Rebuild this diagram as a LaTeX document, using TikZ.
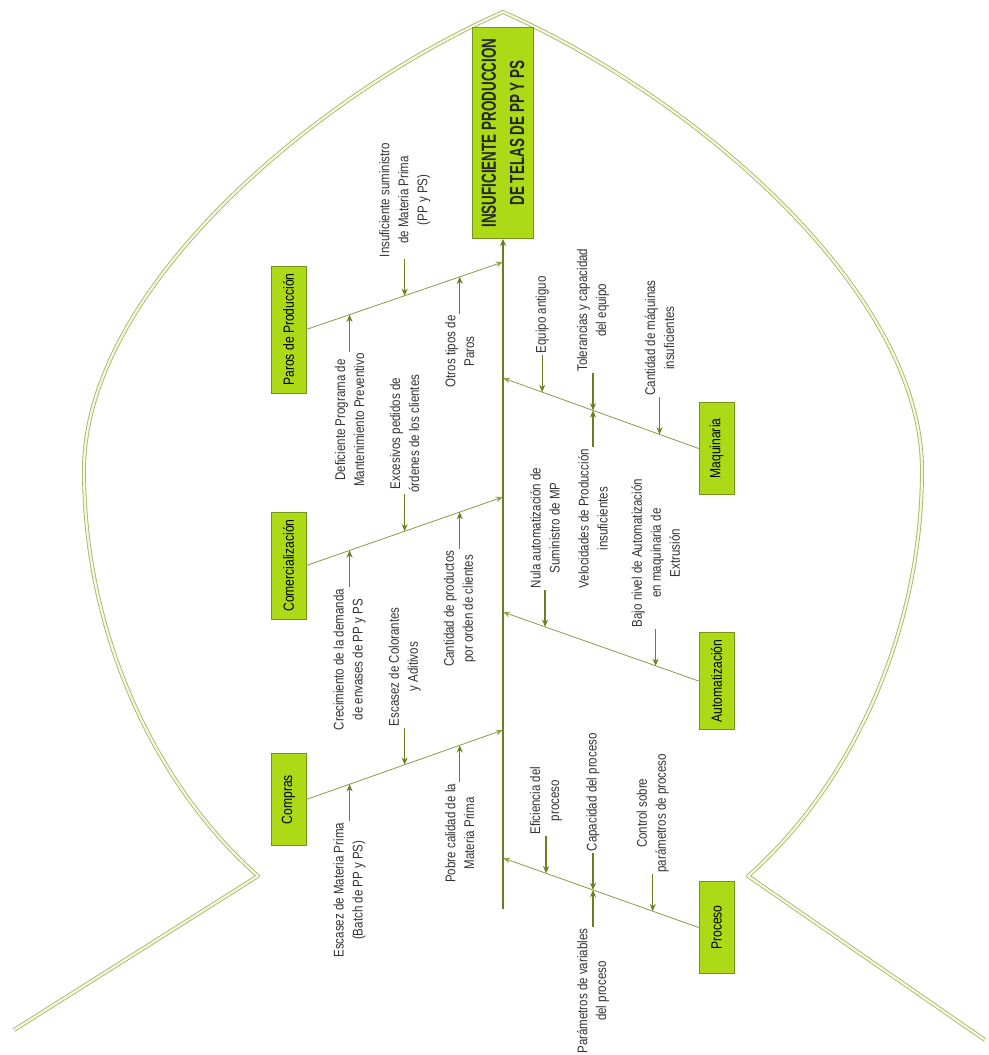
\documentclass[tikz,border=0pt]{standalone}
\usepackage{fontspec}
\setmainfont{Liberation Sans}[FakeStretch=0.82]
\newfontfamily\headfont{Liberation Sans}[FakeStretch=0.66]
\usetikzlibrary{positioning,calc,arrows.meta}

\definecolor{boxgreen}{RGB}{172,218,22}
\definecolor{boxline}{RGB}{118,148,28}
\definecolor{boneline}{RGB}{140,158,80}
\definecolor{spineline}{RGB}{104,128,30}
\definecolor{fishline}{RGB}{165,182,100}
\definecolor{fishfill}{RGB}{244,247,222}

\tikzset{
  catbox/.style={draw=boxline, fill=boxgreen, rotate=90, minimum width=2.3cm, minimum height=0.875cm, inner xsep=0.18cm, font=\fontsize{10.5}{12}\selectfont},
  headbox/.style={draw=boxline, fill=boxgreen, rotate=90, minimum width=5.275cm, minimum height=1.525cm, align=center, text=black!85, font=\headfont\bfseries\fontsize{14.5}{20}\selectfont},
  cause/.style={rotate=90, align=center, inner sep=1pt, text=black!80, font=\fontsize{10}{13.5}\selectfont},
  bone/.style={draw=boneline, line width=0.6pt, -{Stealth[length=1.8mm,width=1.4mm]}},
  subbone/.style={draw=spineline, line width=0.9pt, -{Stealth[length=1.8mm,width=1.5mm]}},
  fish/.style={draw=fishline, double=fishfill, double distance=1.6pt, line width=0.6pt, line join=round}
}

\begin{document}
\begin{tikzpicture}[x=0.025cm, y=-0.025cm]
\useasboundingbox (0,0) rectangle (989,1055);

\draw[fish] (14,1030) -- (258,876) .. controls (160,790) and (84,640) .. (84,470)
  .. controls (84,290) and (315,95) .. (503,12)
  .. controls (691,95) and (922,290) .. (922,470)
  .. controls (922,640) and (846,790) .. (748,876) -- (985,1040);

\node[headbox] (head) at (503,133) {INSUFICIENTE PRODUCCION\\DE TELAS DE PP Y PS};

\node[catbox] (paros) at (288.5,329.5) {Paros de Producción};
\node[catbox] (comer) at (288.5,565.5) {Comercialización};
\node[catbox] (compras) at (288.5,799.5) {Compras};
\node[catbox] (maq) at (716.5,448.5) {Maquinaria};
\node[catbox] (auto) at (716.5,681) {Automatización};
\node[catbox] (proc) at (716.5,927.5) {Proceso};

\coordinate (tail) at (503,909);
\coordinate (s1) at (503,262);
\coordinate (s2) at (503,497);
\coordinate (s3) at (503,730);
\coordinate (s4) at (503,378);
\coordinate (s5) at (503,612);
\coordinate (s6) at (503,858);

\draw[subbone] (tail) -- (head.west);
\draw[bone] (paros.south) -- (s1);
\draw[bone] (comer.south) -- (s2);
\draw[bone] (compras.south) -- (s3);
\draw[bone] (maq.north) -- (s4);
\draw[bone] (auto.north) -- (s5);
\draw[bone] (proc.north) -- (s6);

\coordinate (pa1) at ($(paros.south)!0.22!(s1)$);
\coordinate (pa2) at ($(paros.south)!0.5!(s1)$);
\coordinate (pa3) at ($(paros.south)!0.78!(s1)$);
\coordinate (co1) at ($(comer.south)!0.22!(s2)$);
\coordinate (co2) at ($(comer.south)!0.5!(s2)$);
\coordinate (co3) at ($(comer.south)!0.78!(s2)$);
\coordinate (cm1) at ($(compras.south)!0.22!(s3)$);
\coordinate (cm2) at ($(compras.south)!0.5!(s3)$);
\coordinate (cm3) at ($(compras.south)!0.78!(s3)$);
\coordinate (ma1) at ($(maq.north)!0.8!(s4)$);
\coordinate (ma2) at ($(maq.north)!0.54!(s4)$);
\coordinate (ma3) at ($(maq.north)!0.2!(s4)$);
\coordinate (au1) at ($(auto.north)!0.785!(s5)$);
\coordinate (au2) at ($(auto.north)!0.22!(s5)$);
\coordinate (pr1) at ($(proc.north)!0.78!(s6)$);
\coordinate (pr2) at ($(proc.north)!0.54!(s6)$);
\coordinate (pr3) at ($(proc.north)!0.235!(s6)$);

\node[cause, anchor=east] (deficiente) at ($(pa1)+(0,37)$) {Deficiente Programa de\\Mantenimiento Preventivo};
\node[cause, anchor=west] (insuf) at ($(pa2)+(0,-37)$) {Insuficiente suministro\\de Materia Prima\\(PP y PS)};
\node[cause, anchor=east] (otros) at ($(pa3)+(0,37)$) {Otros tipos de\\Paros};
\node[cause, anchor=east] (crec) at ($(co1)+(0,37)$) {Crecimiento de la demanda\\de envases de PP y PS};
\node[cause, anchor=west] (exces) at ($(co2)+(0,-37)$) {Excesivos pedidos de\\órdenes de los clientes};
\node[cause, anchor=east] (cantprod) at ($(co3)+(0,37)$) {Cantidad de productos\\por orden de clientes};
\node[cause, anchor=east] (escmp) at ($(cm1)+(0,37)$) {Escasez de Materia Prima\\(Batch de PP y PS)};
\node[cause, anchor=west] (esccol) at ($(cm2)+(0,-37)$) {Escasez de Colorantes\\y Aditivos};
\node[cause, anchor=east] (pobre) at ($(cm3)+(0,37)$) {Pobre calidad de la\\Materia Prima};
\node[cause, anchor=west] (equipo) at ($(ma1)+(0,-37)$) {Equipo antiguo};
\node[cause, anchor=west] (toler) at ($(ma2)+(0,-37)$) {Tolerancias y capacidad\\del equipo};
\node[cause, anchor=east] (veloc) at ($(ma2)+(0,37)$) {Velocidades de Producción\\insuficientes};
\node[cause, anchor=west] (cantmaq) at ($(ma3)+(0,-37)$) {Cantidad de máquinas\\insuficientes};
\node[cause, anchor=west] (nula) at ($(au1)+(0,-37)$) {Nula automatización de\\Suministro de MP};
\node[cause, anchor=west] (bajo) at ($(au2)+(0,-37)$) {Bajo nivel de Automatización\\en maquinaria de\\Extrusión};
\node[cause, anchor=west] (efic) at ($(pr1)+(0,-37)$) {Eficiencia del\\proceso};
\node[cause, anchor=west] (capac) at ($(pr2)+(0,-37)$) {Capacidad del proceso};
\node[cause, anchor=east] (param) at ($(pr2)+(0,37)$) {Parámetros de variables\\del proceso};
\node[cause, anchor=west] (control) at ($(pr3)+(0,-37)$) {Control sobre\\parámetros de proceso};

\draw[subbone] (deficiente) -- (pa1);
\draw[subbone] (insuf) -- (pa2);
\draw[subbone] (otros) -- (pa3);
\draw[subbone] (crec) -- (co1);
\draw[subbone] (exces) -- (co2);
\draw[subbone] (cantprod) -- (co3);
\draw[subbone] (escmp) -- (cm1);
\draw[subbone] (esccol) -- (cm2);
\draw[subbone] (pobre) -- (cm3);
\draw[subbone] (equipo) -- (ma1);
\draw[subbone] (toler) -- (ma2);
\draw[subbone] (veloc) -- (ma2);
\draw[subbone] (cantmaq) -- (ma3);
\draw[subbone] (nula) -- (au1);
\draw[subbone] (bajo) -- (au2);
\draw[subbone] (efic) -- (pr1);
\draw[subbone] (capac) -- (pr2);
\draw[subbone] (param) -- (pr2);
\draw[subbone] (control) -- (pr3);

\end{tikzpicture}
\end{document}
